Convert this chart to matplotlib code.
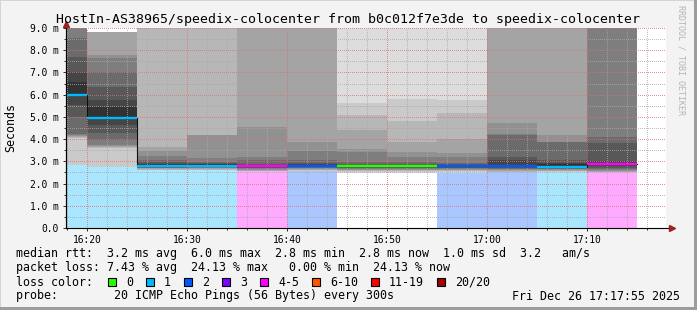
import numpy as np
import matplotlib
matplotlib.use("Agg")
import matplotlib.pyplot as plt
from matplotlib.patches import Rectangle
from matplotlib.colors import to_rgb

nan = np.nan

# each step covers the 5 minutes before its end time (minutes after 16:00)
step_end = [20, 25, 30, 35, 40, 45, 50, 55, 60, 65, 70, 75]
lost = [1, 1, 1, 1, 5, 2, 0, 0, 2, 2, 1, 5]
median = [6.00, 4.96, 2.81, 2.81, 2.78, 2.80, 2.79, 2.80, 2.77, 2.78, 2.75, 2.87]

# sorted rtts (ms) of the 20 pings per step, nan = slot without a sample
pings = [
    [2.80, 2.85, 4.05, 4.10, 4.15, 4.20, 4.22, 5.00, 5.53, 6.00, 6.57, 7.00, 7.70, 8.55, 9.6, 10.2, 11.0, 12.5, 14.0, nan],
    [2.70, 2.75, 3.60, 3.65, 3.70, 3.74, 3.96, 4.28, 4.63, 4.96, 5.45, 5.76, 6.35, 7.00, 7.65, 7.80, 8.80, 8.82, 8.84, nan],
    [2.56, 2.60, 2.63, 2.66, 2.68, 2.70, 2.72, 2.75, 2.78, 2.81, 2.86, 2.90, 2.95, 3.06, 3.24, 3.46, 3.64, 9.5, 11.0, nan],
    [2.55, 2.60, 2.63, 2.66, 2.68, 2.70, 2.73, 2.76, 2.79, 2.81, 2.86, 2.89, 2.93, 2.97, 3.15, 4.17, 4.19, 9.8, 12.0, nan],
    [nan, nan, 2.55, 2.58, 2.62, 2.65, 2.68, 2.71, 2.74, 2.78, 2.81, 2.85, 2.90, 3.05, 3.20, 4.54, 10.5, nan, nan, nan],
    [nan, 2.56, 2.59, 2.62, 2.65, 2.68, 2.71, 2.73, 2.76, 2.78, 2.80, 2.88, 2.93, 3.06, 3.47, 3.87, 9.5, 10.5, 12.0, nan],
    [2.47, 2.52, 2.56, 2.60, 2.63, 2.66, 2.69, 2.72, 2.75, 2.77, 2.79, 2.84, 2.90, 2.97, 3.42, 3.56, 4.41, 5.09, 5.63, 10.0],
    [2.47, 2.51, 2.55, 2.59, 2.62, 2.65, 2.68, 2.71, 2.74, 2.77, 2.80, 2.85, 2.90, 2.97, 3.20, 3.42, 3.87, 4.82, 5.80, 11.0],
    [2.48, 2.52, 2.56, 2.60, 2.63, 2.66, 2.69, 2.71, 2.73, 2.75, 2.77, 2.83, 2.88, 2.92, 3.20, 3.37, 4.00, 5.18, 5.76, 10.5],
    [nan, 2.50, 2.54, 2.58, 2.61, 2.64, 2.67, 2.70, 2.73, 2.76, 2.78, 3.06, 3.20, 4.20, 4.23, 4.73, 9.5, 10.5, 12.0, nan],
    [2.48, 2.52, 2.55, 2.58, 2.61, 2.64, 2.67, 2.70, 2.73, 2.75, 2.88, 2.93, 3.06, 3.85, 3.87, 4.19, 9.6, 10.8, 12.5, nan],
    [nan, nan, 2.47, 2.50, 2.55, 2.60, 2.66, 2.72, 2.80, 2.87, 2.93, 3.00, 3.82, 4.10, 9.4, 10.5, 12.0, nan, nan, nan],
]

loss_labels = ["0", "1", "2", "3", "4-5", "6-10", "11-19", "20/20"]
loss_upper = [0, 1, 2, 3, 5, 10, 19, 20]
loss_colors = ["#26ff00", "#00b8ff", "#0059ff", "#7e00ff", "#ff00ff", "#ff5500", "#ff0000", "#a10000"]

tick_pos = [20, 30, 40, 50, 60, 70]
tick_labels = ["16:20", "16:30", "16:40", "16:50", "17:00", "17:10"]

rtt_stats = [3.2, 6.0, 2.8, 2.8, 1.0]
am_s = 3.2
loss_stats = [7.43, 24.13, 0.00, 24.13]

title = "HostIn-AS38965/speedix-colocenter from b0c012f7e3de to speedix-colocenter"
probe_text = "20 ICMP Echo Pings (56 Bytes) every 300s"
stamp = "Fri Dec 26 17:17:55 2025"

W, H = 697, 310
MONO = "DejaVu Sans Mono"
plt.rcParams["font.family"] = MONO


def fx(px):
    return px / W


def fy(py):
    return 1 - py / H


fig = plt.figure(figsize=(W / 100, H / 100), dpi=100, facecolor="#f3f3f3")
ax = fig.add_axes([fx(66), fy(228), 600 / W, 200 / H])
ax.set_facecolor("white")

x0, x1 = 17 + 55 / 60, 77 + 55 / 60
ax.set_xlim(x0, x1)
ax.set_ylim(0, 9)

starts = np.array(step_end, dtype=float) - 5
P = np.array(pings)
half = 10
bottom = np.full(len(P), np.inf)
for k in range(1, half + 1):
    lo = P[:, k - 1]
    hi = P[:, 20 - k]
    ok = ~np.isnan(lo) & ~np.isnan(hi)
    g = (int(190 / half * (half - k)) + 50) / 255
    ax.bar(starts[ok], hi[ok] - lo[ok], bottom=lo[ok], width=5, align="edge",
           color=(g, g, g), linewidth=0, antialiased=False, zorder=1)
    bottom[ok] = np.minimum(bottom[ok], lo[ok])

color_idx = [next(i for i, u in enumerate(loss_upper) if n <= u) for n in lost]

# loss background below the smoke
for s, b, n, ci in zip(starts, bottom, lost, color_idx):
    if n == 0:
        continue
    c = np.array(to_rgb(loss_colors[ci]))
    light = 1 - (1 - c) / 3
    ax.bar(s, b, width=5, align="edge", color=light, linewidth=0,
           antialiased=False, zorder=1)

# median: dark step line, then loss coloured segments
xs, ys = [], []
for s, m in zip(starts, median):
    xs += [s, s + 5]
    ys += [m, m]
ax.plot(xs, ys, color="#101010", lw=0.8, zorder=3)
ax.hlines(median, starts, starts + 5, colors=[loss_colors[i] for i in color_idx],
          lw=1.7, zorder=4)

# grid
ax.set_xticks(tick_pos)
ax.set_xticklabels(tick_labels)
ax.set_xticks(np.arange(18, 78, 2), minor=True)
ax.set_yticks(np.arange(0, 10))
ax.set_yticklabels(["0.0"] + ["%.1f m" % v for v in range(1, 10)])
ax.set_yticks(np.arange(0.5, 9, 1.0), minor=True)
ax.set_axisbelow(False)
ax.grid(which="minor", color="#a8a8a8", alpha=0.75, lw=0.72, ls=(0, (1, 1.5)),
        antialiased=False)
ax.grid(which="major", color="#e07070", alpha=0.75, lw=0.72, ls=(0, (1, 1.5)),
        antialiased=False)

ax.tick_params(which="both", labelsize=6.9, colors="#303030", labelcolor="black")
ax.tick_params(axis="y", which="major", length=2.2, pad=2.9, width=0.72)
ax.tick_params(axis="y", which="minor", length=1.5, width=0.72)
ax.tick_params(axis="x", which="major", length=2.2, pad=2.5, width=0.72)
ax.tick_params(axis="x", which="minor", length=1.5, width=0.72)

for sp in ["top", "right", "bottom"]:
    ax.spines[sp].set_visible(False)
ax.spines["left"].set_linewidth(0.8)

# axes with arrows
ax.plot([x0, x1 + 0.3], [0, 0], color="black", lw=0.8, clip_on=False, zorder=5)
ax.plot([x0, x0], [0, 9.2], color="black", lw=0.8, clip_on=False, zorder=5)
ax.plot([x1 + 0.55], [0], marker=">", ms=4.5, color="#a02020", clip_on=False, zorder=6)
ax.plot([x0], [9.2], marker="^", ms=4.5, color="#a02020", clip_on=False, zorder=6)

# texts
fig.text(fx(348), fy(19), title, ha="center", va="center", fontsize=9.5, family=MONO)
fig.text(fx(11), fy(128), "Seconds", rotation=90, ha="center", va="center",
         fontsize=8.4, family=MONO)
fig.text(fx(681), fy(5), "RRDTOOL / TOBI OETIKER", rotation=270, ha="center", va="top",
         fontsize=6, color="#b4b4b4", family=MONO)

line1 = ("median rtt:  %.1f ms avg  %.1f ms max  %.1f ms min  %.1f ms now  %.1f ms sd  %.1f   am/s"
         % (*rtt_stats, am_s))
line2 = "packet loss: %.2f %% avg  %.2f %% max  %5.2f %% min  %.2f %% now" % tuple(loss_stats)
line4 = "probe:        " + probe_text
leg_kw = dict(ha="left", va="center", fontsize=8.4, family=MONO)
fig.text(fx(16), fy(254), line1, **leg_kw)
fig.text(fx(16), fy(268), line2, **leg_kw)
fig.text(fx(16), fy(282), "loss color:", **leg_kw)
fig.text(fx(16), fy(296), line4, **leg_kw)
fig.text(fx(680), fy(296), stamp, ha="right", va="center", fontsize=8.4, family=MONO)

cw = 7.0
px = 108.0
for lab, col in zip(loss_labels, loss_colors):
    fig.patches.append(Rectangle((fx(px), fy(286)), 8 / W, 8 / H, transform=fig.transFigure,
                                 facecolor=col, edgecolor="black", lw=0.8))
    fig.text(fx(px + 18), fy(282), lab, **leg_kw)
    px = px + 18 + len(lab) * cw + 13

# frame of the canvas
fig.patches.append(Rectangle((0, 0), 1, 1, transform=fig.transFigure, fill=False,
                             edgecolor="#d4d4d4", lw=1.4))
fig.patches.append(Rectangle((fx(694), 0), 3 / W, 1, transform=fig.transFigure,
                             facecolor="#9c9c9c", lw=0))
fig.patches.append(Rectangle((0, 0), 1, 3 / H, transform=fig.transFigure,
                             facecolor="#9c9c9c", lw=0))

fig.savefig("out.png", dpi=100, facecolor=fig.get_facecolor())
